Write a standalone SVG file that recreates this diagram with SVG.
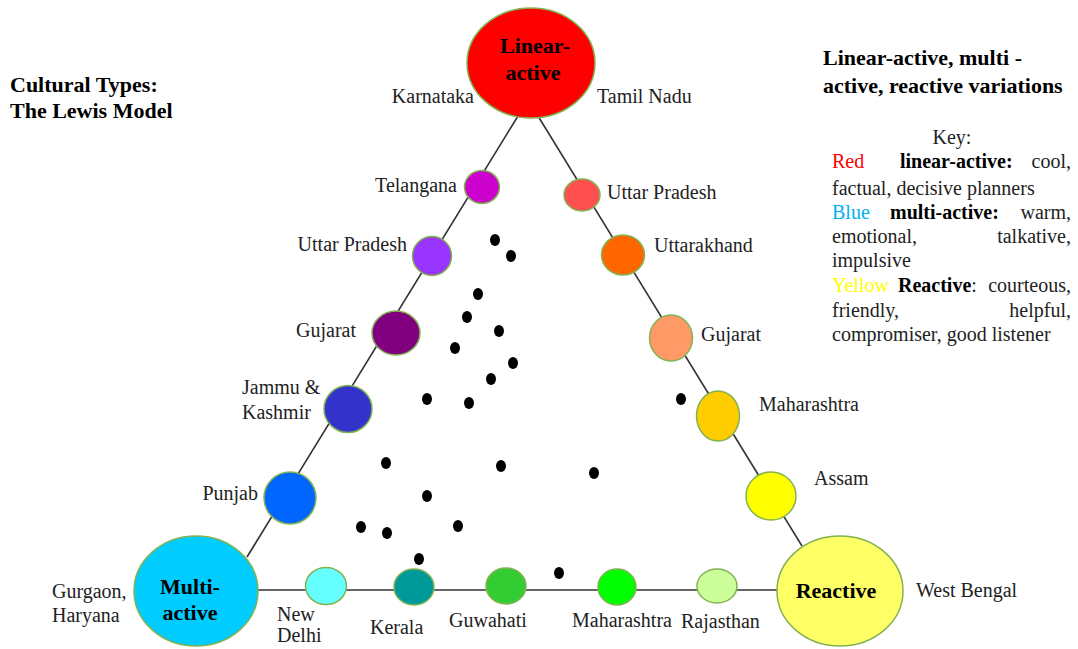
<svg xmlns="http://www.w3.org/2000/svg" width="1078" height="649" viewBox="0 0 1078 649">
<style>
.n{stroke:#82b352;stroke-width:1.5}
.lbl{font-family:"Liberation Serif","Times New Roman",serif;font-size:20px;fill:#222}
.big{font-family:"Liberation Serif","Times New Roman",serif;font-size:22px;font-weight:bold;fill:#000}
.ttl{font-family:"Liberation Serif","Times New Roman",serif;font-size:22px;font-weight:bold;fill:#000}
.key{font-family:"Liberation Serif","Times New Roman",serif;font-size:20px;fill:#222}
.b{font-weight:bold;fill:#000}
.dot{fill:#000}
.ln{stroke:#333;stroke-width:1.6;fill:none}
</style>
<rect width="1078" height="649" fill="#fff"/>
<g id="connectors">
<line class="ln" x1="518" y1="116" x2="247" y2="557"/>
<line class="ln" x1="538" y1="116" x2="802" y2="546"/>
<line class="ln" x1="258" y1="590" x2="777" y2="590"/>
</g>
<g id="titles">
<text class="ttl" x="10" y="92">Cultural Types:</text>
<text class="ttl" x="10" y="118">The Lewis Model</text>
<text class="ttl" x="823" y="65">Linear-active, multi -</text>
<text class="ttl" x="823" y="93">active, reactive variations</text>
</g>
<g id="key" class="key">
<text x="952" y="144" text-anchor="middle">Key:</text>
<text x="832" y="168" fill="#ff0000">Red</text>
<text x="900" y="168" class="b">linear-active:</text>
<text x="1071" y="168" text-anchor="end">cool,</text>
<text x="832" y="195">factual, decisive planners</text>
<text x="832" y="219" fill="#00b0f0">Blue</text>
<text x="890" y="219" class="b">multi-active:</text>
<text x="1071" y="219" text-anchor="end">warm,</text>
<text x="832" y="243">emotional,</text>
<text x="1071" y="243" text-anchor="end">talkative,</text>
<text x="832" y="267">impulsive</text>
<text x="832" y="292" fill="#ffff00">Yellow</text>
<text x="898" y="292"><tspan class="b">Reactive</tspan>:</text>
<text x="1071" y="292" text-anchor="end">courteous,</text>
<text x="832" y="317">friendly,</text>
<text x="1071" y="317" text-anchor="end">helpful,</text>
<text x="832" y="341">compromiser, good listener</text>
</g>
<g id="linear-active">
<ellipse class="n" cx="531" cy="63" rx="64" ry="55" fill="#ff0000"/>
<text class="big" x="535" y="53" text-anchor="middle">Linear-</text>
<text class="big" x="533" y="80" text-anchor="middle">active</text>
</g>
<g id="multi-active">
<ellipse class="n" cx="196" cy="591" rx="62" ry="55" fill="#00ccff"/>
<text class="big" x="190" y="594" text-anchor="middle">Multi-</text>
<text class="big" x="190" y="620" text-anchor="middle">active</text>
</g>
<g id="reactive">
<ellipse class="n" cx="840" cy="591" rx="63" ry="55" fill="#ffff66"/>
<text class="big" x="836" y="598" text-anchor="middle">Reactive</text>
</g>
<g id="karnataka"><text class="lbl" x="474" y="103" text-anchor="end">Karnataka</text></g>
<g id="tamil-nadu"><text class="lbl" x="597" y="103">Tamil Nadu</text></g>
<g id="telangana">
<ellipse class="n" cx="482" cy="187" rx="17.5" ry="16.5" fill="#cc00cc"/>
<text class="lbl" x="457" y="192" text-anchor="end">Telangana</text>
</g>
<g id="uttar-pradesh-l">
<ellipse class="n" cx="432" cy="256" rx="19.5" ry="19.5" fill="#9933ff"/>
<text class="lbl" x="407" y="251" text-anchor="end">Uttar Pradesh</text>
</g>
<g id="gujarat-l">
<ellipse class="n" cx="396" cy="333" rx="24" ry="22" fill="#800080"/>
<text class="lbl" x="356" y="337" text-anchor="end">Gujarat</text>
</g>
<g id="jammu-kashmir">
<ellipse class="n" cx="348" cy="409" rx="24" ry="23.5" fill="#3333cc"/>
<text class="lbl" x="242" y="394">Jammu &amp;</text>
<text class="lbl" x="242" y="419">Kashmir</text>
</g>
<g id="punjab">
<ellipse class="n" cx="290" cy="498" rx="26" ry="26" fill="#0066ff"/>
<text class="lbl" x="258" y="500" text-anchor="end">Punjab</text>
</g>
<g id="gurgaon"><text class="lbl" x="52" y="598">Gurgaon,</text><text class="lbl" x="52" y="622">Haryana</text></g>
<g id="new-delhi">
<ellipse class="n" cx="326" cy="586" rx="20.5" ry="18.5" fill="#66ffff"/>
<text class="lbl" x="277" y="621">New</text>
<text class="lbl" x="277" y="642">Delhi</text>
</g>
<g id="kerala">
<ellipse class="n" cx="414" cy="587" rx="20" ry="18" fill="#009999"/>
<text class="lbl" x="370" y="634">Kerala</text>
</g>
<g id="guwahati">
<ellipse class="n" cx="506" cy="586" rx="20" ry="18" fill="#33cc33"/>
<text class="lbl" x="449" y="627">Guwahati</text>
</g>
<g id="maharashtra-b">
<ellipse class="n" cx="617" cy="587" rx="19" ry="18" fill="#00ff00"/>
<text class="lbl" x="572" y="627">Maharashtra</text>
</g>
<g id="rajasthan">
<ellipse class="n" cx="717" cy="586" rx="20" ry="17" fill="#ccff99"/>
<text class="lbl" x="681" y="628">Rajasthan</text>
</g>
<g id="west-bengal"><text class="lbl" x="916" y="597">West Bengal</text></g>
<g id="uttar-pradesh-r">
<ellipse class="n" cx="582" cy="195" rx="18" ry="16" fill="#ff5050"/>
<text class="lbl" x="607" y="199">Uttar Pradesh</text>
</g>
<g id="uttarakhand">
<ellipse class="n" cx="623" cy="255" rx="21.5" ry="20" fill="#ff6600"/>
<text class="lbl" x="654" y="252">Uttarakhand</text>
</g>
<g id="gujarat-r">
<ellipse class="n" cx="671" cy="338" rx="21.5" ry="23" fill="#ff9966"/>
<text class="lbl" x="701" y="341">Gujarat</text>
</g>
<g id="maharashtra-r">
<ellipse class="n" cx="718" cy="416" rx="21.5" ry="25" fill="#ffcc00"/>
<text class="lbl" x="759" y="411">Maharashtra</text>
</g>
<g id="assam">
<ellipse class="n" cx="771" cy="496" rx="25" ry="24" fill="#ffff00"/>
<text class="lbl" x="814" y="485">Assam</text>
</g>
<g id="dots">
<ellipse class="dot" cx="495" cy="240" rx="5" ry="6"/>
<ellipse class="dot" cx="511" cy="256" rx="5" ry="6"/>
<ellipse class="dot" cx="478" cy="294" rx="5" ry="6"/>
<ellipse class="dot" cx="467" cy="317" rx="5" ry="6"/>
<ellipse class="dot" cx="499" cy="331" rx="5" ry="6"/>
<ellipse class="dot" cx="455" cy="348" rx="5" ry="6"/>
<ellipse class="dot" cx="513" cy="363" rx="5" ry="6"/>
<ellipse class="dot" cx="491" cy="379" rx="5" ry="6"/>
<ellipse class="dot" cx="427" cy="399" rx="5" ry="6"/>
<ellipse class="dot" cx="469" cy="403" rx="5" ry="6"/>
<ellipse class="dot" cx="386" cy="463" rx="5" ry="6"/>
<ellipse class="dot" cx="501" cy="466" rx="5" ry="6"/>
<ellipse class="dot" cx="594" cy="473" rx="5" ry="6"/>
<ellipse class="dot" cx="427" cy="496" rx="5" ry="6"/>
<ellipse class="dot" cx="361" cy="527" rx="5" ry="6"/>
<ellipse class="dot" cx="387" cy="533" rx="5" ry="6"/>
<ellipse class="dot" cx="458" cy="526" rx="5" ry="6"/>
<ellipse class="dot" cx="419" cy="559" rx="5" ry="6"/>
<ellipse class="dot" cx="559" cy="573" rx="5" ry="6"/>
<ellipse class="dot" cx="681" cy="399" rx="5" ry="6"/>
</g>
</svg>
